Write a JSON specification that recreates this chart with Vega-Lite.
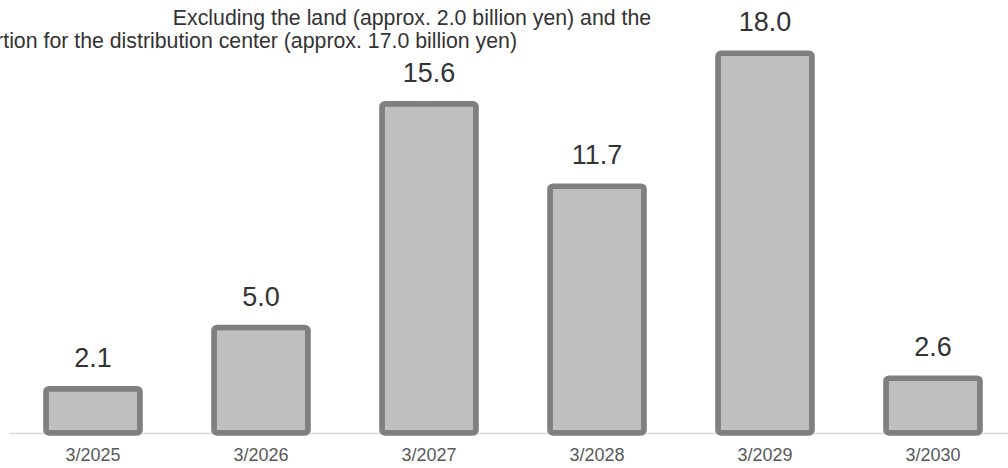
{
  "$schema": "https://vega.github.io/schema/vega-lite/v6.json",
  "width": 1008,
  "height": 422,
  "autosize": {"type": "none"},
  "padding": {"left": 9, "top": 11, "right": 0, "bottom": 35},
  "background": "white",
  "config": {"view": {"stroke": null}, "font": "Liberation Sans"},
  "datasets": {
    "capex": [
      {"period": "3/2025", "value": 2.1},
      {"period": "3/2026", "value": 5.0},
      {"period": "3/2027", "value": 15.6},
      {"period": "3/2028", "value": 11.7},
      {"period": "3/2029", "value": 18.0},
      {"period": "3/2030", "value": 2.6}
    ],
    "notes": [
      {"line": 1, "note": "Excluding the land (approx. 2.0 billion yen) and the"},
      {"line": 2, "note": "portion for the distribution center (approx. 17.0 billion yen)"}
    ]
  },
  "layer": [
    {
      "data": {"name": "capex"},
      "mark": {"type": "bar", "fill": "#bfbfbf", "stroke": "#7f7f7f", "strokeWidth": 5.5, "cornerRadius": 3},
      "encoding": {
        "x": {
          "field": "period", "type": "nominal", "sort": null,
          "scale": {"paddingInner": 0.44, "paddingOuter": 0.22},
          "axis": {"title": null, "labelAngle": 0, "labelFontSize": 18, "labelColor": "#595959", "labelFont": "Liberation Sans", "ticks": false, "domainColor": "#d9d9d9", "domainWidth": 1.5, "labelPadding": 13}
        },
        "y": {
          "field": "value", "type": "quantitative",
          "scale": {"domain": [0, 20], "nice": false},
          "axis": null
        }
      }
    },
    {
      "data": {"name": "capex"},
      "mark": {"type": "text", "fontSize": 27, "color": "#333333", "baseline": "alphabetic", "dy": -22},
      "encoding": {
        "x": {"field": "period", "type": "nominal", "sort": null},
        "y": {"field": "value", "type": "quantitative"},
        "text": {"field": "value", "type": "quantitative", "format": ".1f"}
      }
    },
    {
      "data": {"name": "notes"},
      "transform": [{"filter": "datum.line == 1"}],
      "mark": {"type": "text", "fontSize": 21.3, "color": "#333333", "baseline": "alphabetic", "align": "center", "dx": -17},
      "encoding": {
        "x": {"datum": "3/2027", "type": "nominal"},
        "y": {"datum": 19.34, "type": "quantitative"},
        "text": {"field": "note"}
      }
    },
    {
      "data": {"name": "notes"},
      "transform": [{"filter": "datum.line == 2"}],
      "mark": {"type": "text", "fontSize": 21.3, "color": "#333333", "baseline": "alphabetic", "align": "right", "dx": 256},
      "encoding": {
        "x": {"datum": "3/2026", "type": "nominal"},
        "y": {"datum": 18.25, "type": "quantitative"},
        "text": {"field": "note"}
      }
    }
  ]
}
